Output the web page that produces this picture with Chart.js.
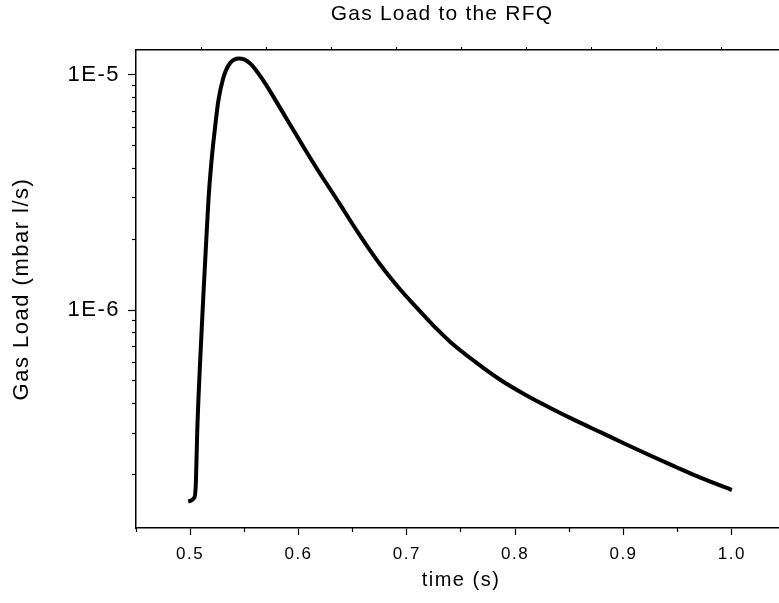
<!DOCTYPE html>
<html>
<head>
<meta charset="utf-8">
<script src="https://cdn.jsdelivr.net/npm/chart.js@4.4.0/dist/chart.umd.min.js"></script>
<style>
    html, body { margin: 0; padding: 0; background: #fff; }
    #wrap { position: relative; width: 779px; height: 603px; overflow: hidden; }
    #chart { position: absolute; left: 0; top: 0; }
    #title {
        position: absolute; left: 242px; top: 0; width: 400px;
        text-align: center; color: #000;
        font: 21px "Liberation Sans", Arial, sans-serif;
        letter-spacing: 1.2px; line-height: 26px;
    }
</style>
</head>
<body>
<div id="wrap">
    <canvas id="chart" width="790" height="603"></canvas>
    <div id="title">Gas Load to the RFQ</div>
</div>
<script>
    // values
    var timeValues = [0.4982, 0.5040, 0.5053, 0.5065, 0.5090, 0.5120, 0.5144, 0.5169, 0.5186, 0.5207,
        0.5229, 0.5259, 0.5305, 0.5367, 0.5452, 0.5554, 0.5674, 0.5794, 0.5923, 0.6062,
        0.6200, 0.6385, 0.6477, 0.6570, 0.6662, 0.6754, 0.6847, 0.6939, 0.7050, 0.7170,
        0.7281, 0.7401, 0.7632, 0.7862, 0.8093, 0.8324, 0.8555, 0.8786, 0.9017, 0.9247,
        0.9478, 0.9709, 1.0000];
    var gasLoad = [1.54e-7, 1.60e-7, 1.86e-7, 3.03e-7, 5.79e-7, 1.11e-6, 1.81e-6, 2.949e-6, 3.764e-6, 4.806e-6,
        5.94e-6, 7.7e-6, 9.68e-6, 1.121e-5, 1.175e-5, 1.119e-5, 9.48e-6, 7.72e-6, 6.14e-6, 4.81e-6,
        3.80e-6, 2.81e-6, 2.406e-6, 2.07e-6, 1.792e-6, 1.563e-6, 1.376e-6, 1.224e-6, 1.073e-6, 9.36e-7,
        8.28e-7, 7.33e-7, 6.03e-7, 5.06e-7, 4.37e-7, 3.84e-7, 3.40e-7, 3.03e-7, 2.70e-7, 2.41e-7,
        2.16e-7, 1.94e-7, 1.72e-7];

    var xMajorTicks = [0.5, 0.6, 0.7, 0.8, 0.9, 1.0];
    var xTickLabels = ['0.5', '0.6', '0.7', '0.8', '0.9', '1.0'];
    var xMinorTicks = [0.45, 0.55, 0.65, 0.75, 0.85, 0.95, 1.05];
    var yMajorTicks = [1e-6, 1e-5];
    var yTickLabels = ['1E-6', '1E-5'];
    var yMinorTicks = [2e-7, 3e-7, 4e-7, 5e-7, 6e-7, 7e-7, 8e-7, 9e-7,
        2e-6, 3e-6, 4e-6, 5e-6, 6e-6, 7e-6, 8e-6, 9e-6];
    var topTicks = [1, 2, 3, 4, 5, 6, 7, 8, 9];

    var FONT = '"Liberation Sans", Arial, sans-serif';
    var X_MIN = 0.45, X_MAX = 1.05;
    var Y_MIN = 1.186e-7, Y_MAX = 1.276e-5;

    function toTicks(list) {
        return list.map(function (v) { return { value: v }; });
    }

    // origin-style text is a bit wider than plain Arial
    var spacingPlugin = {
        id: 'spacing',
        beforeDraw: function (chart) {
            chart.ctx.letterSpacing = '1.5px';
        }
    };

    var hiddenTicks = { display: false };
    var minorGrid = { drawOnChartArea: false, tickLength: 4, tickColor: '#000', tickWidth: 1.2 };

    new Chart(document.getElementById('chart'), {
        type: 'line',
        data: {
            datasets: [{
                data: timeValues.map(function (t, i) { return { x: t, y: gasLoad[i] }; }),
                borderColor: '#000',
                borderWidth: 4,
                pointRadius: 0,
                fill: false,
                cubicInterpolationMode: 'monotone'
            }]
        },
        options: {
            responsive: false,
            animation: false,
            layout: { padding: { left: 0, right: 4, top: 0, bottom: 0 } },
            plugins: {
                legend: { display: false },
                tooltip: { enabled: false },
                title: { display: false }
            },
            scales: {
                x: {
                    type: 'linear',
                    position: 'bottom',
                    weight: 1,
                    min: X_MIN,
                    max: X_MAX,
                    afterBuildTicks: function (axis) { axis.ticks = toTicks(xMajorTicks); },
                    afterFit: function (axis) { axis.height = 75; },
                    ticks: {
                        autoSkip: false,
                        maxRotation: 0,
                        padding: 9,
                        color: '#000',
                        font: { family: FONT, size: 17 },
                        callback: function (value, index) { return xTickLabels[index]; }
                    },
                    grid: { drawOnChartArea: false, tickLength: 7, tickColor: '#000', tickWidth: 1.2 },
                    border: { color: '#000', width: 1.5 },
                    title: {
                        display: true,
                        text: 'time (s)',
                        color: '#000',
                        font: { family: FONT, size: 20 },
                        padding: { top: 0, bottom: 11 }
                    }
                },
                xMinor: {
                    type: 'linear',
                    position: 'bottom',
                    weight: 0,
                    min: X_MIN,
                    max: X_MAX,
                    afterBuildTicks: function (axis) { axis.ticks = toTicks(xMinorTicks); },
                    afterFit: function (axis) { axis.height = 0; },
                    ticks: hiddenTicks,
                    grid: minorGrid,
                    border: { display: false }
                },
                xTop: {
                    type: 'linear',
                    position: 'top',
                    min: 0,
                    max: 10,
                    afterBuildTicks: function (axis) { axis.ticks = toTicks(topTicks); },
                    afterFit: function (axis) { axis.height = 50; },
                    ticks: hiddenTicks,
                    grid: { drawOnChartArea: false, tickLength: 3, tickColor: '#000', tickWidth: 1 },
                    border: { color: '#000', width: 1.5 }
                },
                y: {
                    type: 'logarithmic',
                    position: 'left',
                    weight: 1,
                    min: Y_MIN,
                    max: Y_MAX,
                    afterBuildTicks: function (axis) { axis.ticks = toTicks(yMajorTicks); },
                    afterFit: function (axis) { axis.width = 136; },
                    ticks: {
                        autoSkip: false,
                        padding: 8,
                        color: '#000',
                        font: { family: FONT, size: 22 },
                        callback: function (value, index) { return yTickLabels[index]; }
                    },
                    grid: { drawOnChartArea: false, tickLength: 8, tickColor: '#000', tickWidth: 1.2 },
                    border: { color: '#000', width: 1.5 },
                    title: {
                        display: true,
                        text: 'Gas Load (mbar l/s)',
                        color: '#000',
                        font: { family: FONT, size: 22 },
                        padding: { top: 9, bottom: 0 }
                    }
                },
                yMinor: {
                    type: 'logarithmic',
                    position: 'left',
                    weight: 0,
                    min: Y_MIN,
                    max: Y_MAX,
                    afterBuildTicks: function (axis) { axis.ticks = toTicks(yMinorTicks); },
                    afterFit: function (axis) { axis.width = 0; },
                    ticks: hiddenTicks,
                    grid: minorGrid,
                    border: { display: false }
                }
            }
        },
        plugins: [spacingPlugin]
    });
</script>
</body>
</html>
